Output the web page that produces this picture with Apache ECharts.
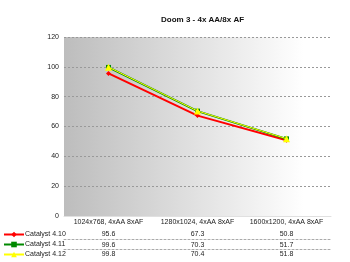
<!DOCTYPE html>
<html><head><meta charset="utf-8">
<script src="https://cdn.jsdelivr.net/npm/echarts@6/dist/echarts.min.js"></script>
<style>html,body{margin:0;padding:0;background:#fff}#c{width:350px;height:262px}</style>
</head><body><div id="c"></div>
<script>
const titleText = "Doom 3 - 4x AA/8x AF";
const categories = ["1024x768, 4xAA 8xAF", "1280x1024, 4xAA 8xAF", "1600x1200, 4xAA 8xAF"];
const seriesNames = ["Catalyst 4.10", "Catalyst 4.11", "Catalyst 4.12"];
const cat410 = [95.6, 67.3, 50.8];
const cat411 = [99.6, 70.3, 51.7];
const cat412 = [99.8, 70.4, 51.8];
const yTicks = [0, 20, 40, 60, 80, 100, 120];

const FONT = "Liberation Sans";
const colors = ["#ff0000", "#008800", "#ffff00"];
const symbols = ["diamond", "rect", "triangle"];
const allData = [cat410, cat411, cat412];

const chart = echarts.init(document.getElementById('c'), null, {renderer: 'canvas'});
const rowAxis = (data, offset, margin, showLine) => ({
  type: 'category', data: data.map(v => v.toFixed(1)), position: 'bottom', offset: offset,
  axisLine: {show: showLine, lineStyle: {color: '#aaaaaa', type: [2, 2], width: 1}},
  axisTick: {show: false},
  axisLabel: {margin: margin, fontSize: 7, fontFamily: FONT, color: '#222'},
  splitLine: {show: false}
});
chart.setOption({
  animation: false,
  title: {text: titleText, left: 161, top: 16, padding: 0,
    textStyle: {fontSize: 8, fontWeight: 'bold', fontFamily: FONT, color: '#111'}},
  legend: {orient: 'vertical', left: 3, top: 231, padding: 0, itemGap: 3, itemWidth: 20, itemHeight: 7,
    height: 40,
    textStyle: {fontSize: 7, fontFamily: FONT, color: '#222', padding: [0, 0, 0, -4]},
    data: seriesNames},
  grid: {left: 64, right: 19, top: 37, bottom: 46, show: true, borderWidth: 0,
    backgroundColor: {type: 'linear', x: 0, y: 0, x2: 1, y2: 0,
      colorStops: [{offset: 0, color: '#bdbdbd'}, {offset: 0.9, color: '#ffffff'}, {offset: 1, color: '#ffffff'}]}},
  xAxis: [
    {type: 'category', data: categories, boundaryGap: true,
      axisLine: {show: true, lineStyle: {color: '#e0e0e0'}}, axisTick: {show: false},
      axisLabel: {margin: 3, fontSize: 7, fontFamily: FONT, color: '#222', interval: 0}},
    rowAxis(cat410, 0, 15, false),
    rowAxis(cat411, 23.5, 2.5, true),
    rowAxis(cat412, 33.5, 1.5, true)
  ],
  yAxis: {type: 'value', min: 0, max: 120, interval: 20,
    axisLine: {show: false}, axisTick: {show: false},
    axisLabel: {margin: 5, fontSize: 7, fontFamily: FONT, color: '#222',
      formatter: v => yTicks.includes(v) ? String(v) : ''},
    splitLine: {show: true, lineStyle: {color: '#999999', type: [2, 2], width: 1}}},
  series: seriesNames.map((n, i) => ({
    name: n, type: 'line', xAxisIndex: 0, data: allData[i],
    symbol: symbols[i], symbolSize: i === 2 ? 7 : 5, showAllSymbol: true,
    lineStyle: {color: colors[i], width: i === 2 ? 1 : 2},
    itemStyle: {color: colors[i]},
    z: 2 + i
  }))
});
</script></body></html>
